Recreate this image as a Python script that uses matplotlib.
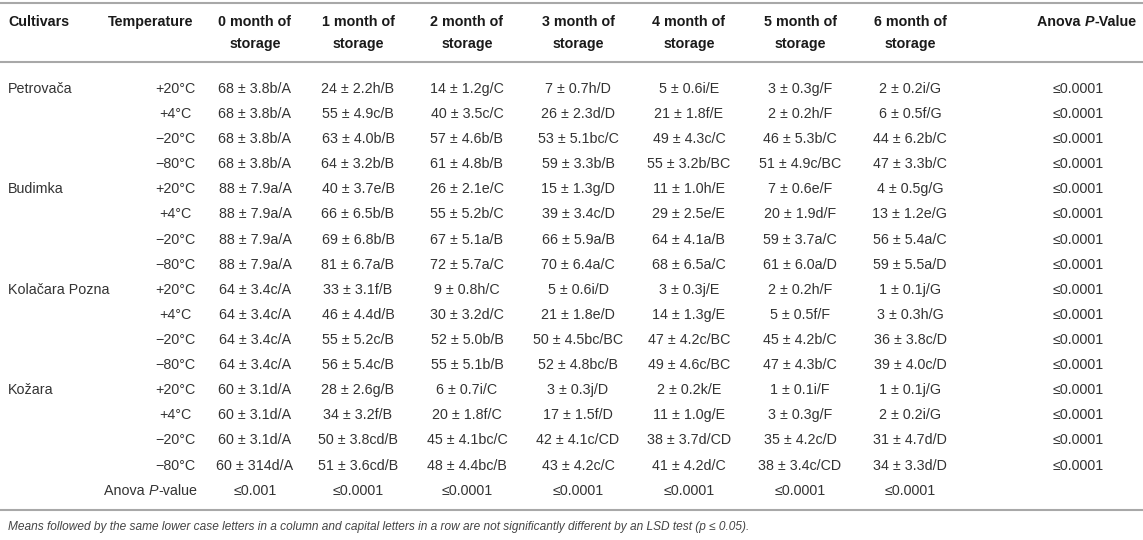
import matplotlib
matplotlib.use("Agg")
import matplotlib.pyplot as plt

plt.rcParams['font.family'] = ['Liberation Sans', 'DejaVu Sans']

# ---- data ----
cultivars = ["Petrovača", "Budimka", "Kolačara Pozna", "Kožara"]
temps = ["+20°C", "+4°C", "−20°C", "−80°C"]
months = ["0", "1", "2", "3", "4", "5", "6"]

means = [
    [68, 24, 14, 7, 5, 3, 2],
    [68, 55, 40, 26, 21, 2, 6],
    [68, 63, 57, 53, 49, 46, 44],
    [68, 64, 61, 59, 55, 51, 47],
    [88, 40, 26, 15, 11, 7, 4],
    [88, 66, 55, 39, 29, 20, 13],
    [88, 69, 67, 66, 64, 59, 56],
    [88, 81, 72, 70, 68, 61, 59],
    [64, 33, 9, 5, 3, 2, 1],
    [64, 46, 30, 21, 14, 5, 3],
    [64, 55, 52, 50, 47, 45, 36],
    [64, 56, 55, 52, 49, 47, 39],
    [60, 28, 6, 3, 2, 1, 1],
    [60, 34, 20, 17, 11, 3, 2],
    [60, 50, 45, 42, 38, 35, 31],
    [60, 51, 48, 43, 41, 38, 34],
]
sds = [
    ["3.8", "2.2", "1.2", "0.7", "0.6", "0.3", "0.2"],
    ["3.8", "4.9", "3.5", "2.3", "1.8", "0.2", "0.5"],
    ["3.8", "4.0", "4.6", "5.1", "4.3", "5.3", "6.2"],
    ["3.8", "3.2", "4.8", "3.3", "3.2", "4.9", "3.3"],
    ["7.9", "3.7", "2.1", "1.3", "1.0", "0.6", "0.5"],
    ["7.9", "6.5", "5.2", "3.4", "2.5", "1.9", "1.2"],
    ["7.9", "6.8", "5.1", "5.9", "4.1", "3.7", "5.4"],
    ["7.9", "6.7", "5.7", "6.4", "6.5", "6.0", "5.5"],
    ["3.4", "3.1", "0.8", "0.6", "0.3", "0.2", "0.1"],
    ["3.4", "4.4", "3.2", "1.8", "1.3", "0.5", "0.3"],
    ["3.4", "5.2", "5.0", "4.5", "4.2", "4.2", "3.8"],
    ["3.4", "5.4", "5.1", "4.8", "4.6", "4.3", "4.0"],
    ["3.1", "2.6", "0.7", "0.3", "0.2", "0.1", "0.1"],
    ["3.1", "3.2", "1.8", "1.5", "1.0", "0.3", "0.2"],
    ["3.1", "3.8", "4.1", "4.1", "3.7", "4.2", "4.7"],
    ["314", "3.6", "4.4", "4.2", "4.2", "3.4", "3.3"],
]
groups = [
    ["b/A", "h/B", "g/C", "h/D", "i/E", "g/F", "i/G"],
    ["b/A", "c/B", "c/C", "d/D", "f/E", "h/F", "f/G"],
    ["b/A", "b/B", "b/B", "bc/C", "c/C", "b/C", "b/C"],
    ["b/A", "b/B", "b/B", "b/B", "b/BC", "c/BC", "b/C"],
    ["a/A", "e/B", "e/C", "g/D", "h/E", "e/F", "g/G"],
    ["a/A", "b/B", "b/C", "c/D", "e/E", "d/F", "e/G"],
    ["a/A", "b/B", "a/B", "a/B", "a/B", "a/C", "a/C"],
    ["a/A", "a/B", "a/C", "a/C", "a/C", "a/D", "a/D"],
    ["c/A", "f/B", "h/C", "i/D", "j/E", "h/F", "j/G"],
    ["c/A", "d/B", "d/C", "e/D", "g/E", "f/F", "h/G"],
    ["c/A", "c/B", "b/B", "bc/BC", "c/BC", "b/C", "c/D"],
    ["c/A", "c/B", "b/B", "bc/B", "c/BC", "b/C", "c/D"],
    ["d/A", "g/B", "i/C", "j/D", "k/E", "i/F", "j/G"],
    ["d/A", "f/B", "f/C", "f/D", "g/E", "g/F", "i/G"],
    ["d/A", "cd/B", "bc/C", "c/CD", "d/CD", "c/D", "d/D"],
    ["d/A", "cd/B", "bc/B", "c/C", "d/C", "c/CD", "d/D"],
]
row_pvals = ["≤0.0001"] * 16
col_pvals = ["≤0.001", "≤0.0001", "≤0.0001", "≤0.0001", "≤0.0001", "≤0.0001", "≤0.0001"]
footnote = ("Means followed by the same lower case letters in a column and capital letters "
            "in a row are not significantly different by an LSD test (p ≤ 0.05).")

# ---- layout (pixel units) ----
W, H = 1143, 540
fs = 10.3
body_col = "#333333"
head_col = "#1a1a1a"
rule_col = "#a8a8a8"

fig = plt.figure(figsize=(W / 100, H / 100), dpi=100)
ax = fig.add_axes([0, 0, 1, 1])
ax.set_xlim(0, W)
ax.set_ylim(H, 0)
ax.axis("off")
renderer = fig.canvas.get_renderer()

col_x = [255, 358, 467, 578, 689, 800, 910]
temp_x = 175
pval_x = 1078
row_y0, row_dy = 89, 25.1


def mixed(x, y, parts, ha="center", **kw):
    # parts: list of (text, style); laid out side by side
    objs = [ax.text(0, y, t, style=s, va="center", ha="left", fontsize=fs, **kw) for t, s in parts]
    widths = [o.get_window_extent(renderer).width for o in objs]
    total = sum(widths)
    start = x - total / 2 if ha == "center" else (x - total if ha == "right" else x)
    for o, w in zip(objs, widths):
        o.set_x(start)
        start += w


# rules
ax.plot([0, W], [3, 3], color=rule_col, lw=1.5, solid_capstyle="butt")
ax.plot([0, W], [62, 62], color=rule_col, lw=1.5, solid_capstyle="butt")
ax.plot([0, W], [510, 510], color=rule_col, lw=1.5, solid_capstyle="butt")

# header
hkw = dict(fontsize=fs, fontweight="bold", color=head_col, va="center")
ax.text(8, 22, "Cultivars", ha="left", **hkw)
ax.text(151, 22, "Temperature", ha="center", **hkw)
for m, x in zip(months, col_x):
    ax.text(x, 22, m + " month of", ha="center", **hkw)
    ax.text(x, 44, "storage", ha="center", **hkw)
mixed(1087, 22, [("Anova ", "normal"), ("P", "italic"), ("-Value", "normal")],
      fontweight="bold", color=head_col)

# body
bkw = dict(fontsize=fs, color=body_col, va="center")
for i in range(16):
    y = row_y0 + i * row_dy
    if i % 4 == 0:
        ax.text(8, y, cultivars[i // 4], ha="left", **bkw)
    ax.text(temp_x, y, temps[i % 4], ha="center", **bkw)
    for j, x in enumerate(col_x):
        ax.text(x, y, f"{means[i][j]} ± {sds[i][j]}{groups[i][j]}", ha="center", **bkw)
    ax.text(pval_x, y, row_pvals[i], ha="center", **bkw)

y = row_y0 + 16 * row_dy
mixed(197, y, [("Anova ", "normal"), ("P", "italic"), ("-value", "normal")], ha="right", color=body_col)
for x, p in zip(col_x, col_pvals):
    ax.text(x, y, p, ha="center", **bkw)

ax.text(8, 527, footnote, ha="left", va="center", style="italic", fontsize=8.6, color="#444444")

fig.savefig("out.png", dpi=100)
